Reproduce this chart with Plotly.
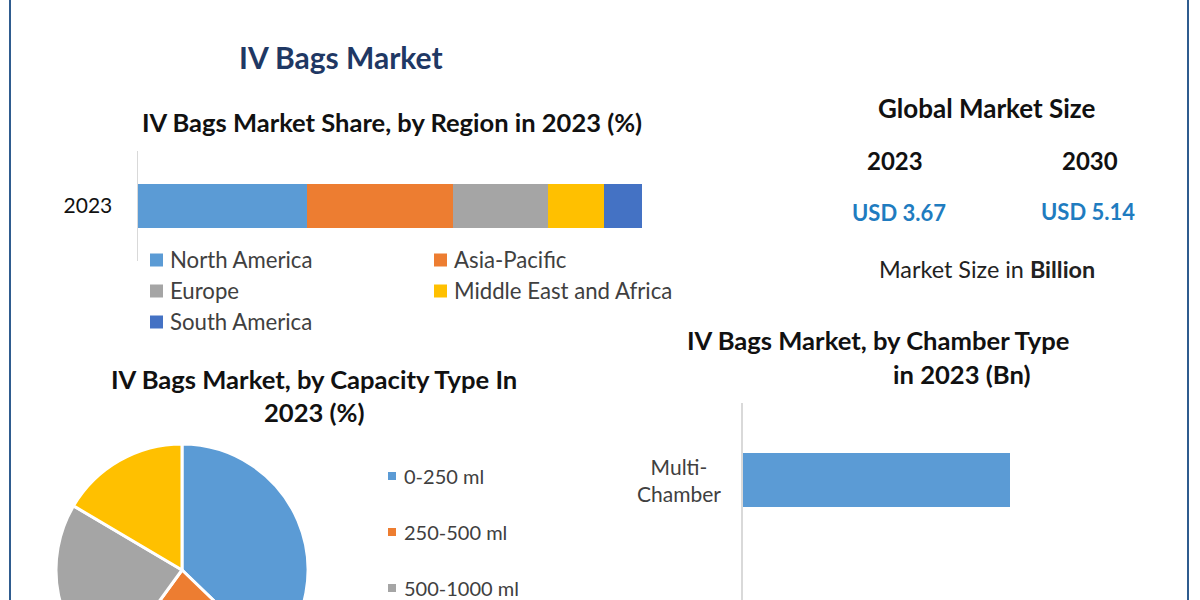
import plotly.graph_objects as go

# figure is taller than the 600px window, the pie and the second bar run off the bottom like in the source
W = 1200
H = 760
FONT = "Lato"
DARK = "#111111"
GREY = "#404040"

regions = ["North America", "Asia-Pacific", "Europe", "Middle East and Africa", "South America"]
region_share = [33.5, 29.1, 18.7, 11.2, 7.5]
region_colors = ["#5B9BD5", "#ED7D31", "#A5A5A5", "#FFC000", "#4472C4"]
region_year = ["2023"]

capacity = ["0-250 ml", "250-500 ml", "500-1000 ml", "Above 1000 ml"]
capacity_share = [37.2, 22.8, 23.5, 16.5]
capacity_colors = ["#5B9BD5", "#ED7D31", "#A5A5A5", "#FFC000"]

chambers = ["Multi-Chamber", "Single-Chamber"]
chamber_value = [2.2, 1.47]


def px(x):
    return x / W


def py(y):
    return 1 - y / H


fig = go.Figure()

# stacked region bar
for name, val, col in zip(regions, region_share, region_colors):
    fig.add_trace(go.Bar(
        x=[val], y=region_year, name=name, orientation="h",
        marker=dict(color=col, line=dict(width=0)),
        xaxis="x", yaxis="y", hoverinfo="name+x",
    ))

# capacity pie
fig.add_trace(go.Pie(
    labels=capacity, values=capacity_share, sort=False, direction="clockwise", rotation=0,
    marker=dict(colors=capacity_colors, line=dict(color="white", width=3)),
    textinfo="none",
    domain=dict(x=[px(56), px(308)], y=[py(696), py(444)]),
))

# chamber bars
fig.add_trace(go.Bar(
    x=chamber_value, y=chambers, orientation="h",
    marker=dict(color="#5B9BD5", line=dict(width=0)),
    xaxis="x2", yaxis="y2", width=0.35,
))

fig.update_layout(
    width=W, height=H, autosize=False,
    margin=dict(l=0, r=0, t=0, b=0),
    paper_bgcolor="white", plot_bgcolor="white",
    font=dict(family=FONT, color=DARK),
    barmode="stack", bargap=0.6, showlegend=False,
    xaxis=dict(domain=[px(137.5), px(642)], range=[0, 100], visible=False, fixedrange=True),
    yaxis=dict(domain=[py(261), py(151)], type="category", showline=True, linecolor="#D9D9D9", linewidth=1,
               ticks="", tickfont=dict(size=21, family=FONT, color=DARK), ticklabelstandoff=20,
               anchor="x", fixedrange=True),
    xaxis2=dict(domain=[px(743), px(1150)], range=[0, 3.355], visible=False, anchor="y2", fixedrange=True),
    yaxis2=dict(domain=[py(711), py(403)], type="category", categoryorder="array", categoryarray=chambers,
                range=[1.5, -0.5], showline=True, linecolor="#D9D9D9", linewidth=1.5, ticks="",
                showticklabels=False, anchor="x2", fixedrange=True),
)


def text(x, y, s, size, bold=False, color=DARK, anchor="center"):
    fig.add_annotation(
        x=px(x), y=py(y), xref="paper", yref="paper", text=f"<b>{s}</b>" if bold else s,
        showarrow=False, xanchor=anchor, yanchor="middle", align="center",
        font=dict(family=FONT, size=size, color=color),
    )


text(341, 57, "IV Bags Market", 30, True, "#1F3864")
text(392, 122, "IV Bags Market Share, by Region in 2023 (%)", 25.5, True)
text(987, 108, "Global Market Size", 26, True)
text(895, 160, "2023", 24, True)
text(1090, 160, "2030", 24, True)
text(899, 213, "USD 3.67", 22, True, "#1F7CC0")
text(1088, 211, "USD 5.14", 22, True, "#1F7CC0")
text(987, 269, "Market Size in <b>Billion</b>", 23.4, False, "#222222")
text(314, 379, "IV Bags Market, by Capacity Type In", 25.6, True)
text(314, 412, "2023 (%)", 25.6, True)
text(878, 340, "IV Bags Market, by Chamber Type", 25.6, True)
text(961, 374, "in 2023 (Bn)", 25.6, True)

# category label sits on the axis, lines centred as in the source
fig.add_annotation(
    x=px(679), y=chambers[0], xref="paper", yref="y2", text="Multi-<br>Chamber", showarrow=False,
    xanchor="center", yanchor="middle", align="center",
    font=dict(family=FONT, size=21, color=GREY),
)

# hand placed legends, the source spaces them wider than a plotly legend can
region_legend_pos = [(150, 260), (434, 260), (150, 291), (434, 291), (150, 322)]
for (x, y), name, col in zip(region_legend_pos, regions, region_colors):
    fig.add_shape(type="rect", xref="paper", yref="paper", x0=px(x), x1=px(x + 13), y0=py(y - 6.5), y1=py(y + 6.5),
                  fillcolor=col, line_width=0)
    text(x + 18, y - 0.5, name, 22.2, False, GREY, "left")

# only the three rows that fit in the window get a label
capacity_legend_y = [476, 532, 588]
for y, name, col in zip(capacity_legend_y, capacity, capacity_colors):
    fig.add_shape(type="rect", xref="paper", yref="paper", x0=px(388), x1=px(396), y0=py(y - 4), y1=py(y + 4),
                  fillcolor=col, line_width=0)
    text(402, y, name, 20, False, GREY, "left")

# frame lines left and right
for x in (10, 1188):
    fig.add_shape(type="line", xref="paper", yref="paper", x0=px(x), x1=px(x), y0=0, y1=1,
                  line=dict(color="#2F5C8F", width=2))

fig.write_html("out.html", config={"displayModeBar": False},
               post_script="document.documentElement.style.overflow='hidden';document.body.style.overflow='hidden';document.body.style.margin='0';")
